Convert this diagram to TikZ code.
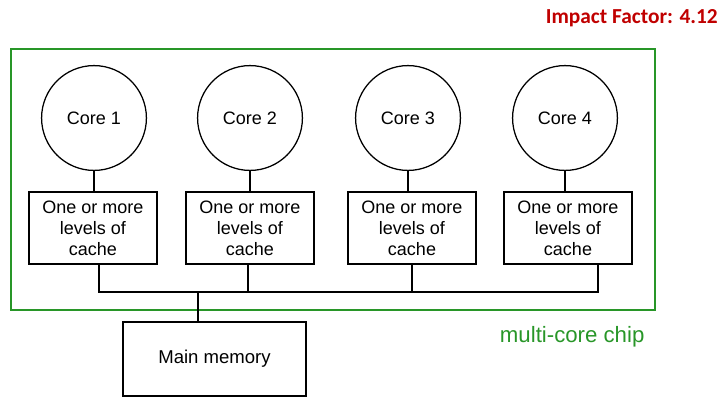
\documentclass[tikz,border=0pt]{standalone}
\usepackage{fontspec}
\setmainfont{Liberation Sans}
\newfontfamily\calfont{Carlito}
\usepackage{tikz}
\tikzset{>=latex}
\definecolor{chipgreen}{RGB}{40,150,40}
\definecolor{ifred}{RGB}{192,0,0}
\tikzset{
  core/.style={draw,circle,line width=0.9pt,minimum size=2.62cm,inner sep=0pt,font=\fontsize{12.8}{15}\selectfont},
  cache/.style={draw,rectangle,line width=0.9pt,minimum width=3.2cm,minimum height=1.8cm,inner sep=0pt,align=center,font=\fontsize{12.8}{15}\selectfont},
  memory/.style={draw,rectangle,line width=0.9pt,minimum width=4.58cm,minimum height=1.85cm,inner sep=0pt,font=\fontsize{13.2}{15}\selectfont},
  wire/.style={line width=0.9pt}
}

\begin{document}
\begin{tikzpicture}[x=0.025cm,y=-0.025cm]
  \useasboundingbox (0,0) rectangle (719,410);

  \node[anchor=base east,inner sep=0pt,text=ifred,font=\calfont\bfseries\fontsize{15.2}{16}\selectfont] (impact) at (718,23) {Impact Factor: 4.12};

  %% the chip
  \draw[chipgreen,line width=1.4pt] (11,49) rectangle (655,310);
  \node[anchor=base west,text=chipgreen,font=\fontsize{15.8}{17}\selectfont] (chip) at (495,342) {multi-core chip};

  \node[core] (c1) at (94,118) {Core 1};
  \node[core] (c2) at (250,118) {Core 2};
  \node[core] (c3) at (408,118) {Core 3};
  \node[core] (c4) at (565,118) {Core 4};

  \node[cache] (b1) at (93,228) {One or more\\levels of\\cache};
  \node[cache] (b2) at (250,228) {One or more\\levels of\\cache};
  \node[cache] (b3) at (412,228) {One or more\\levels of\\cache};
  \node[cache] (b4) at (568,228) {One or more\\levels of\\cache};

  \draw[wire] (c1.south) -- (c1.south |- b1.north);
  \draw[wire] (c2.south) -- (c2.south |- b2.north);
  \draw[wire] (c3.south) -- (c3.south |- b3.north);
  \draw[wire] (c4.south) -- (c4.south |- b4.north);

  %% bus
  \coordinate (j1) at (99,292);
  \coordinate (j2) at (248,292);
  \coordinate (j3) at (412,292);
  \coordinate (j4) at (598,292);
  \coordinate (jm) at (198,292);

  \draw[wire] (j1 |- b1.south) -- (j1) -- (j4) -- (j4 |- b4.south);
  \draw[wire] (j2 |- b2.south) -- (j2);
  \draw[wire] (j3 |- b3.south) -- (j3);

  \node[memory] (mem) at (214.5,359) {Main memory};
  \draw[wire] (jm) -- (jm |- mem.north);

\end{tikzpicture}
\end{document}
